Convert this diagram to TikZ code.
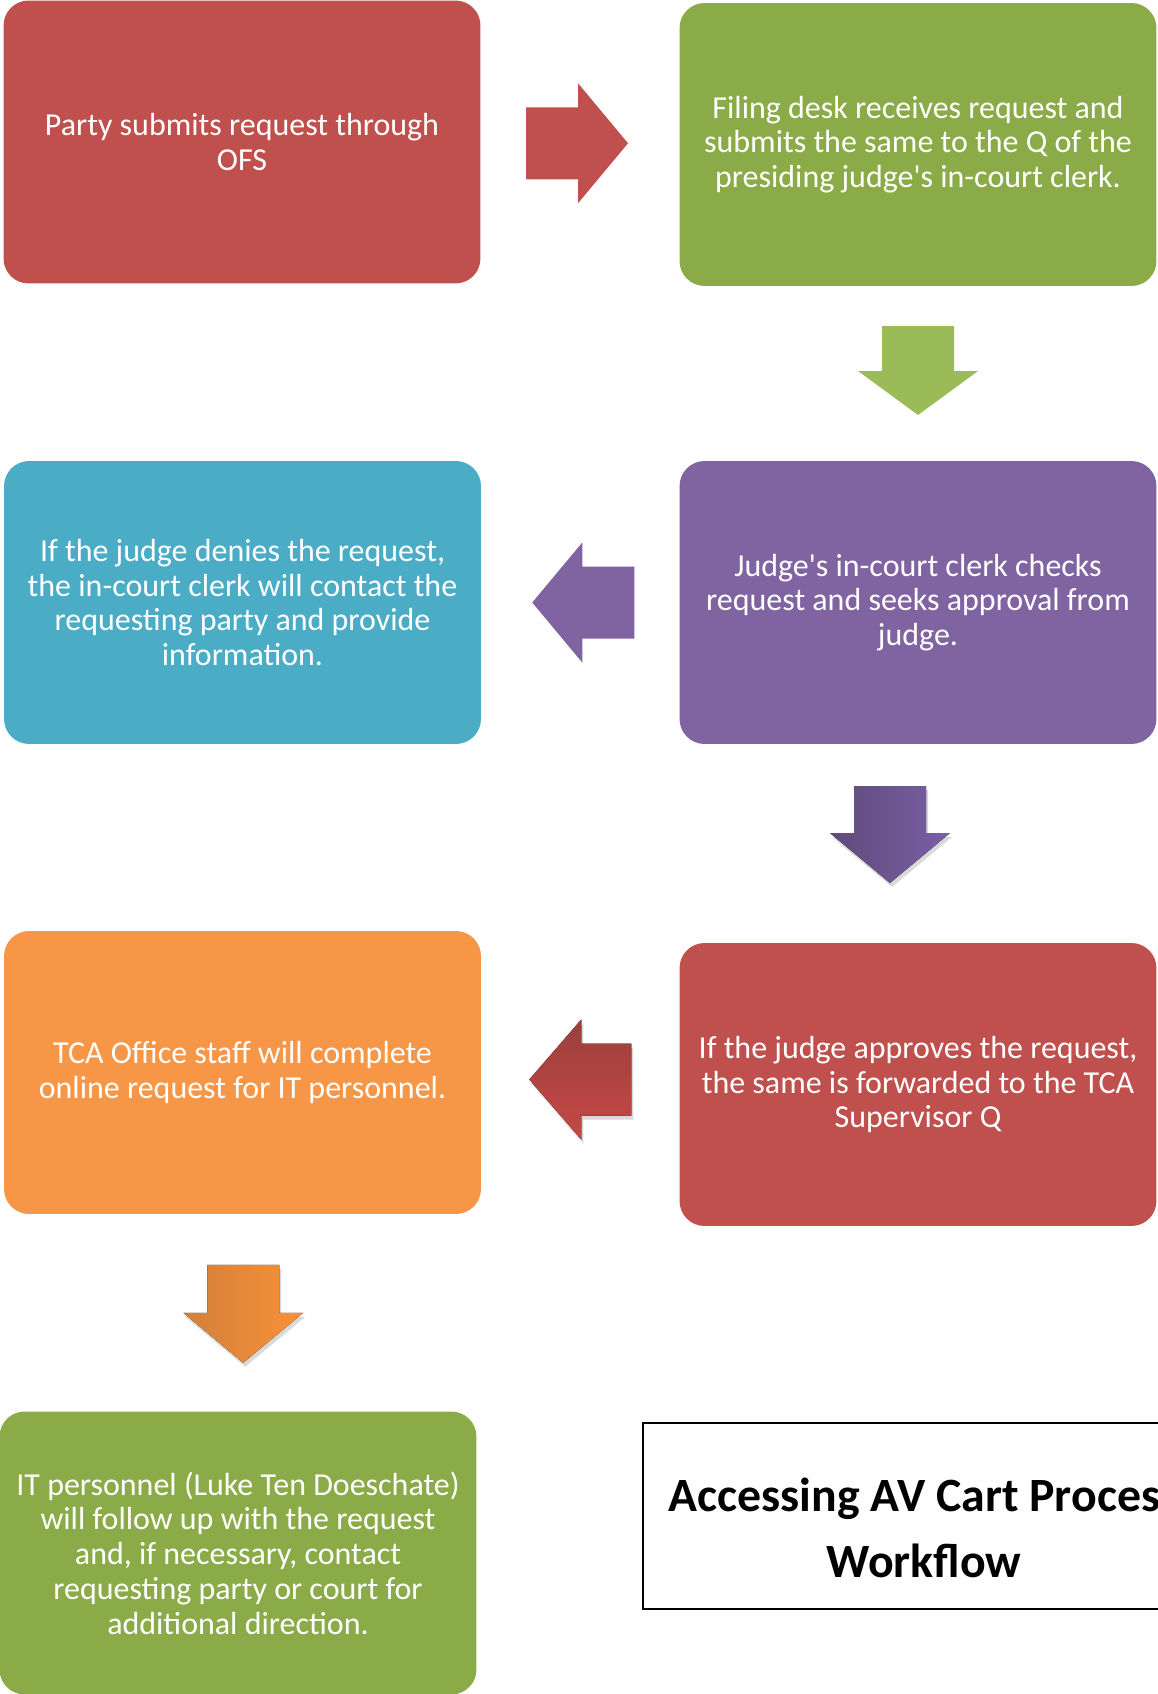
\documentclass[tikz,border=0pt]{standalone}
\usepackage{fontspec}
\setmainfont{Carlito}
\usepackage{tikz}
\usetikzlibrary{
	calc,
	positioning,
	shadows,
}
\definecolor{avred}{HTML}{C0504D}
\definecolor{avgreen}{HTML}{8BAB48}
\definecolor{avlime}{HTML}{9BBB59}
\definecolor{avblue}{HTML}{4BACC6}
\definecolor{avpurple}{HTML}{8064A2}
\definecolor{avorange}{HTML}{F79646}
\tikzset{stepbox/.style={
	rounded corners=0.5cm,
	minimum width=9.54cm,
	minimum height=5.66cm,
	inner sep=0mm,
	align=center,
	text=white,
	font=\fontsize{18.2}{19.8}\selectfont,
}}
\tikzset{
	arrow red/.style={fill=avred},
	arrow green/.style={fill=avlime},
	arrow purple/.style={fill=avpurple},
	arrow violet/.style={left color=avpurple!75!black, right color=avpurple!95!blue,
		drop shadow={opacity=0.3, shadow xshift=0.04cm, shadow yshift=-0.08cm}},
	arrow crimson/.style={top color=avred!80!black, bottom color=avred!90!red,
		drop shadow={opacity=0.3, shadow xshift=0.04cm, shadow yshift=-0.08cm}},
	arrow amber/.style={left color=avorange!85!black, right color=avorange!80!orange,
		drop shadow={opacity=0.3, shadow xshift=0.04cm, shadow yshift=-0.08cm}},
}
% block arrow: [style] {centre} {angle} {length} {head length}
\newcommand{\avarrow}[5][]{%
	\fill[#1, shift={#2}, rotate=#3]
	(-#4/2,-36) -- (#4/2-#5,-36) -- (#4/2-#5,-60) -- (#4/2,0)
	-- (#4/2-#5,60) -- (#4/2-#5,36) -- (-#4/2,36) -- cycle;
}
\newcommand{\apos}{\textquotesingle}

\begin{document}
\begin{tikzpicture}[x=0.02cm, y=-0.02cm]
\useasboundingbox (0,0) rectangle (1157,1694);

\node[stepbox, fill=avred] (b1) at (242,142)
	{Party submits request through\\OFS};
\node[stepbox, fill=avgreen] (b2) at (918,144.5)
	{Filing desk receives request and\\submits the same to the Q of the\\presiding judge\apos s in-court clerk.};
\node[stepbox, fill=avblue] (b3) at (242.5,602.5)
	{If the judge denies the request,\\the in-court clerk will contact the\\requesting party and provide\\information.};
\node[stepbox, fill=avpurple] (b4) at (918,602.5)
	{Judge\apos s in-court clerk checks\\request and seeks approval from\\judge.};
\node[stepbox, fill=avorange] (b5) at (242.5,1072.5)
	{TCA Office staff will complete\\online request for IT personnel.};
\node[stepbox, fill=avred] (b6) at (918,1084.5)
	{If the judge approves the request,\\the same is forwarded to the TCA\\Supervisor Q};
\node[stepbox, fill=avgreen] (b7) at (238,1553)
	{IT personnel (Luke Ten Doeschate)\\will follow up with the request\\and, if necessary, contact\\requesting party or court for\\additional direction.};

\avarrow[arrow red]{($(b1.east)!0.5!(b2.west)+(-3,0)$)}{0}{102}{50}
\avarrow[arrow green]{($(b2.south)!0.5!(b4.north)+(0,-3)$)}{-90}{89}{44}
\avarrow[arrow purple]{($(b4.west)!0.5!(b3.east)+(3,0)$)}{180}{102}{50}
\avarrow[arrow violet]{($(b4.south)!0.5!(b6.north)+(-28,-9)$)}{-90}{97}{50}
\avarrow[arrow crimson]{($(b6.west)!0.5!(b5.east)+(0,1)$)}{180}{102}{52}
\avarrow[arrow amber]{($(b5.south)!0.5!(b7.north)+(3,1)$)}{-90}{98}{50}

\node[draw=black, thick, minimum width=11.14cm, minimum height=3.72cm, inner sep=0mm]
	(frame) at (921.5,1516) {};
\node[align=center, font=\bfseries\fontsize{27.2}{38}\selectfont]
	(title) at (924,1528) {Accessing AV Cart Process\\Workflow};

\end{tikzpicture}
\end{document}
